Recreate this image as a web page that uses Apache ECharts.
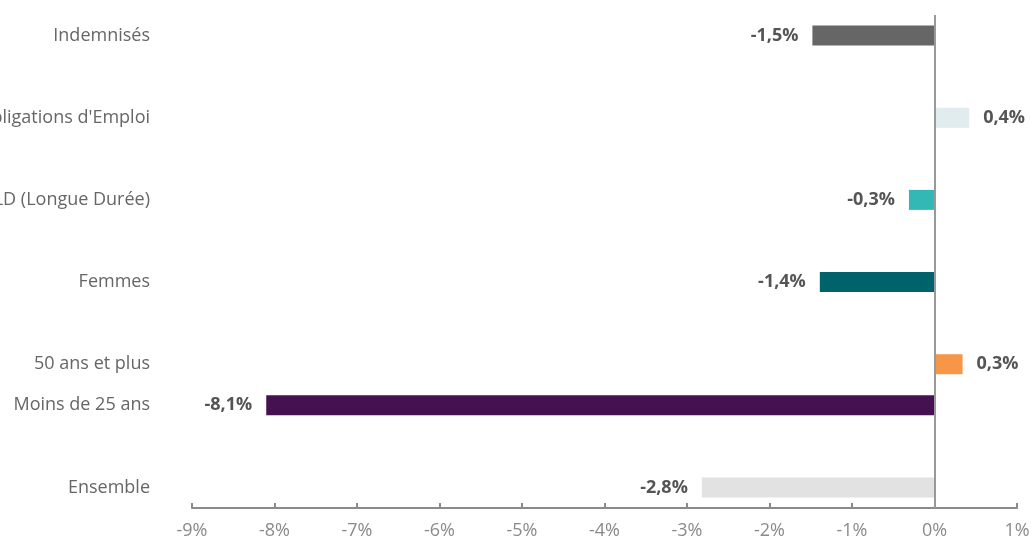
<!DOCTYPE html>
<html>
<head>
<meta charset="utf-8">
<script src="https://cdn.jsdelivr.net/npm/echarts@6/dist/echarts.min.js"></script>
<style>html,body{margin:0;padding:0;background:#fff}#c{width:1031px;height:541px}</style>
</head>
<body>
<div id="c"></div>
<script>
// Categories from bottom to top; empty strings are spacer slots
var categories = ["Ensemble", "", "Moins de 25 ans", "50 ans et plus", "", "Femmes", "", "DELD (Longue Durée)", "", "Bénéficiaires des Obligations d'Emploi", "", "Indemnisés"];
var values = [-2.82, null, -8.1, 0.34, null, -1.39, null, -0.31, null, 0.42, null, -1.48];
var colors = ["#e2e2e2", null, "#461150", "#f79646", null, "#00636c", null, "#33b8b5", null, "#e1ecee", null, "#666666"];
var xTicks = [-9, -8, -7, -6, -5, -4, -3, -2, -1, 0, 1];

var chart = echarts.init(document.getElementById('c'));
var data = values.map(function (v, i) {
  if (v === null) return null;
  return {
    value: v,
    itemStyle: { color: colors[i] },
    label: { position: v < 0 ? 'left' : 'right' }
  };
});
chart.setOption({
  animation: false,
  grid: { left: 192, right: 14, top: 15, bottom: 33, containLabel: false, outerBoundsMode: 'none' },
  xAxis: {
    type: 'value',
    min: xTicks[0],
    max: xTicks[xTicks.length - 1],
    interval: 1,
    axisLine: { show: true, lineStyle: { color: '#8a8a8a', width: 2 } },
    axisTick: { show: true, inside: true, length: 5, lineStyle: { color: '#8a8a8a', width: 2 } },
    splitLine: { show: false },
    axisLabel: {
      color: '#8a8a8a', fontSize: 18, fontFamily: 'Open Sans', margin: 14,
      formatter: function (v) { return v + '%'; }
    }
  },
  yAxis: {
    type: 'category',
    data: categories,
    axisLine: { show: false },
    axisTick: { show: false },
    axisLabel: { color: '#666', fontSize: 18, fontFamily: 'Open Sans', margin: 42 }
  },
  series: [{
    type: 'bar',
    data: data,
    barWidth: 20,
    label: {
      show: true,
      distance: 14,
      color: '#555',
      fontSize: 18,
      fontWeight: 'bold',
      fontFamily: 'Open Sans',
      formatter: function (p) { return p.value.toFixed(1).replace('.', ',') + '%'; }
    },
    markLine: {
      silent: true,
      symbol: 'none',
      label: { show: false },
      lineStyle: { color: '#999', width: 2, type: 'solid' },
      data: [{ xAxis: 0 }]
    }
  }]
});
</script>
</body>
</html>
